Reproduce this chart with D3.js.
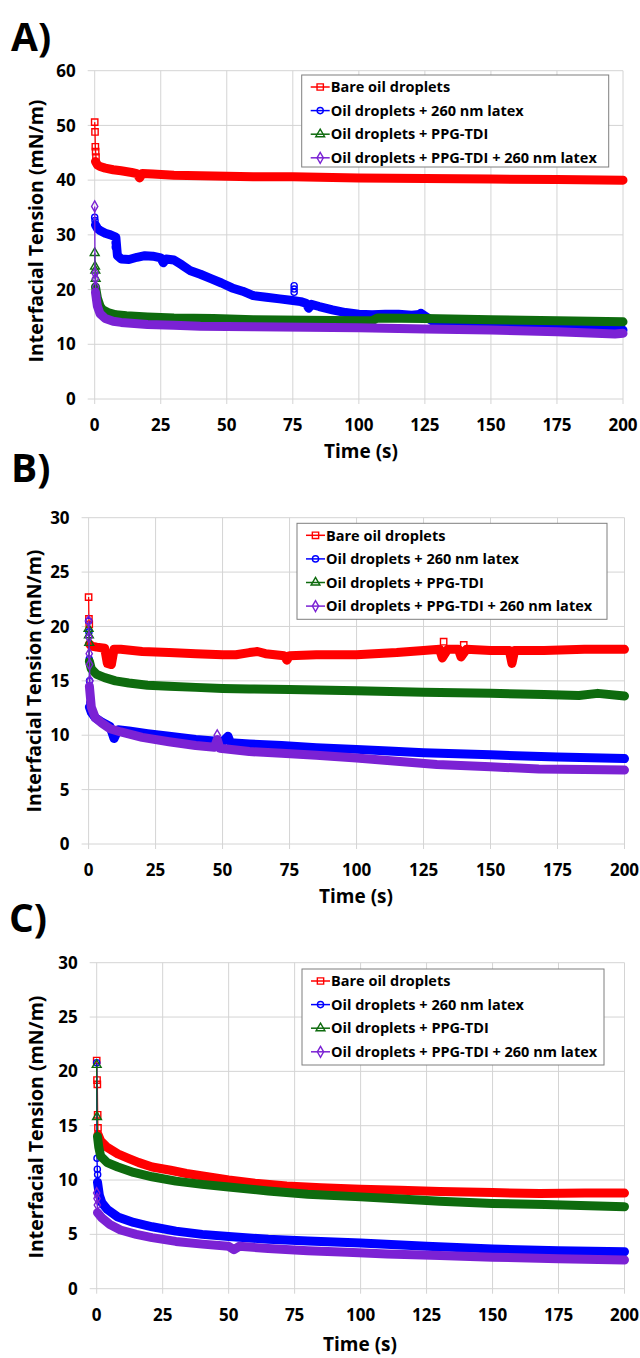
<!DOCTYPE html>
<html>
<head>
<meta charset="utf-8">
<script src="https://cdn.jsdelivr.net/npm/d3@7"></script>
<style>
body { margin: 0; background: #fff; }
text { font-family: "Open Sans", sans-serif; font-weight: 700; fill: #000; }
</style>
</head>
<body>
<script>
var seriesNames = ['Bare oil droplets', 'Oil droplets + 260 nm latex', 'Oil droplets + PPG-TDI', 'Oil droplets + PPG-TDI + 260 nm latex'];
var xTicks = [0, 25, 50, 75, 100, 125, 150, 175, 200];
var yTicksA = [0, 10, 20, 30, 40, 50, 60];
var yTicksBC = [0, 5, 10, 15, 20, 25, 30];

// ---- panel A ----
var aBareSpike = [50.6, 48.8, 46.1, 45.2, 44.2];
var aBare = [[0.3,43.4],[1,42.8],[2,42.5],[4,42.2],[7,41.9],[10,41.7],[14,41.4],[16,41.2],[17,40.4],[18,41.2],[22,41.1],[30,40.9],[40,40.8],[50,40.7],[60,40.6],[75,40.6],[90,40.5],[100,40.4],[125,40.3],[150,40.2],[175,40.1],[200,40.0]];
var aBareMarks = [];
var aLatexSpike = [33.2, 32.6];
var aLatex = [[0.3,31.8],[1,31.2],[2,30.8],[4,30.3],[6,30],[8,29.6],[8.6,26.2],[10,25.6],[13,25.5],[16,25.9],[19,26.2],[22,26.1],[25,25.8],[26,24.9],[27,25.6],[30,25.4],[33,24.5],[36,23.5],[40,22.8],[44,22],[48,21.2],[52,20.3],[56,19.7],[58,19.3],[60,18.9],[65,18.6],[70,18.3],[75,18],[78,17.8],[80,17.5],[81,16.6],[82,17.3],[85,16.9],[90,16.3],[95,15.8],[100,15.5],[105,15.4],[110,15.5],[115,15.5],[120,15.3],[124,15.5],[128,14.2],[140,13.8],[150,13.5],[165,13.1],[180,12.9],[200,12.6]];
var aLatexMarks = [[7.8,28.5],[7.8,27.8],[75.5,20.7],[75.5,20.1],[75.5,19.5],[123.5,15.8]];
var aPpgSpike = [26.7, 24.2, 23.5, 22];
var aPpg = [[0.3,20.5],[1,18.5],[2,17],[3,16.3],[5,15.8],[8,15.4],[12,15.2],[20,15],[30,14.8],[45,14.7],[60,14.5],[80,14.4],[100,14.3],[105,14.3],[107,14.8],[125,14.7],[150,14.5],[175,14.3],[200,14.1]];
var aPpgMarks = [];
var aBothSpike = [35.2, 23, 22, 20.5];
var aBoth = [[0.3,19.5],[1,17],[2,15.6],[4,14.7],[7,14.2],[10,14],[15,13.8],[20,13.6],[30,13.5],[40,13.3],[60,13.2],[80,13.1],[100,13.0],[125,12.8],[150,12.6],[175,12.3],[197,11.9],[200,12.0]];
var aBothMarks = [];

// ---- panel B ----
var bBareSpike = [22.7, 20.7, 20.2];
var bBare = [[0.3,18.4],[1,18.2],[3,18.1],[6,18],[7,16.6],[8.5,16.5],[9.5,17.9],[12,17.9],[20,17.7],[30,17.6],[40,17.5],[50,17.4],[55,17.4],[60,17.6],[63,17.7],[66,17.5],[73,17.3],[74,16.9],[75,17.3],[85,17.4],[100,17.4],[115,17.6],[125,17.8],[131,17.9],[132,17.1],[134,17.9],[138,17.9],[139,17.2],[141,17.9],[150,17.8],[157,17.8],[158,16.6],[159,17.8],[170,17.8],[185,17.9],[200,17.9]];
var bBareMarks = [[132.5,18.6],[140,18.3]];
var bLatexSpike = [20.5, 19.5, 17, 15, 13];
var bLatex = [[0.3,12.6],[1,12.1],[2.5,11.6],[5,11.2],[8,10.8],[9.5,9.7],[11,10.5],[15,10.4],[22,10.15],[30,9.9],[40,9.6],[50,9.4],[52,9.9],[53,9.3],[60,9.2],[72,9.05],[85,8.85],[100,8.7],[112,8.55],[125,8.4],[150,8.2],[175,8.0],[200,7.85]];
var bLatexMarks = [];
var bPpgSpike = [19.8, 19.2, 18.5];
var bPpg = [[0.3,16.8],[1,16.1],[3,15.6],[6,15.3],[10,15],[15,14.8],[22,14.6],[30,14.5],[40,14.4],[50,14.3],[60,14.25],[75,14.2],[100,14.1],[125,13.95],[150,13.85],[170,13.75],[183,13.65],[190,13.85],[200,13.6]];
var bPpgMarks = [];
var bBothSpike = [20.5, 19, 17.5, 16.5, 15];
var bBoth = [[0.3,14.5],[1,12.6],[2.5,11.6],[5,11.1],[8,10.6],[12,10.3],[20,9.8],[30,9.4],[40,9.05],[47,8.9],[48,9.6],[49,8.8],[60,8.5],[72,8.35],[85,8.15],[100,7.9],[115,7.6],[130,7.3],[150,7.1],[168,6.9],[185,6.85],[200,6.8]];
var bBothMarks = [[48,10]];

// ---- panel C ----
var cBareSpike = [21.0, 19.2, 18.8, 16.0, 14.8];
var cBare = [[0.5,14.2],[1.5,13.6],[4,13],[8,12.4],[12,12],[16,11.6],[21,11.2],[28,10.9],[34,10.6],[42,10.3],[50,10],[60,9.7],[72,9.45],[85,9.3],[100,9.15],[115,9.05],[130,8.95],[150,8.85],[168,8.75],[185,8.8],[200,8.8]];
var cBareMarks = [];
var cLatexSpike = [20.8, 12, 11, 10.5];
var cLatex = [[0.3,9.8],[1,8.6],[2,7.9],[4,7.3],[8,6.6],[14,6.1],[21,5.7],[30,5.3],[40,5.0],[50,4.8],[65,4.55],[80,4.4],[100,4.2],[125,3.9],[150,3.65],[175,3.5],[200,3.4]];
var cLatexMarks = [];
var cPpgSpike = [20.6, 15.8];
var cPpg = [[0.3,14],[0.8,13],[1.5,12.2],[4,11.6],[8,11.2],[14,10.7],[21,10.3],[30,9.9],[40,9.6],[50,9.35],[65,9],[80,8.7],[100,8.45],[115,8.25],[130,8.05],[150,7.85],[170,7.75],[200,7.55]];
var cPpgMarks = [];
var cBothSpike = [8.8, 8.3, 7.7];
var cBoth = [[0.3,7.0],[2,6.5],[5,5.9],[9,5.4],[15,5.0],[21,4.7],[30,4.35],[40,4.1],[50,3.9],[52,3.6],[54,3.9],[65,3.7],[80,3.5],[95,3.35],[110,3.2],[130,3.05],[150,2.9],[175,2.75],[200,2.65]];
var cBothMarks = [];

var colors = ['#ff0000', '#0000ff', '#0e6b0e', '#7b22d4'];
var shapes = [d3.symbolSquare, d3.symbolCircle, d3.symbolTriangle, d3.symbolDiamond];
var sizes = [40, 30, 34, 34];

var panels = [
  {label: 'A)', lx: 11, ly: 51, left: 94.7, right: 623, top: 70.7, bottom: 399, ymax: 60, yticks: yTicksA,
   leg: [301.7, 75, 307, 92], ytx: 36, yty: 231, ttx: 361, tty: 458,
   series: [[aBareSpike, aBare, aBareMarks], [aLatexSpike, aLatex, aLatexMarks], [aPpgSpike, aPpg, aPpgMarks], [aBothSpike, aBoth, aBothMarks]]},
  {label: 'B)', lx: 11, ly: 482, left: 88.6, right: 624.5, top: 517.7, bottom: 844, ymax: 30, yticks: yTicksBC,
   leg: [297, 523.3, 310, 96], ytx: 34, yty: 681, ttx: 356, tty: 903,
   series: [[bBareSpike, bBare, bBareMarks], [bLatexSpike, bLatex, bLatexMarks], [bPpgSpike, bPpg, bPpgMarks], [bBothSpike, bBoth, bBothMarks]]},
  {label: 'C)', lx: 9, ly: 932, left: 96.7, right: 624.5, top: 962.7, bottom: 1288.7, ymax: 30, yticks: yTicksBC,
   leg: [302, 969, 302, 96], ytx: 36, yty: 1127, ttx: 360, tty: 1351,
   series: [[cBareSpike, cBare, cBareMarks], [cLatexSpike, cLatex, cLatexMarks], [cPpgSpike, cPpg, cPpgMarks], [cBothSpike, cBoth, cBothMarks]]}
];

var svg = d3.select("body").append("svg")
  .attr("width", 640)
  .attr("height", 1358);

svg.append("rect").attr("width", 640).attr("height", 1358).attr("fill", "#fff");

panels.forEach(function (p) {
  var x = d3.scaleLinear().domain([0, 200]).range([p.left, p.right]);
  var y = d3.scaleLinear().domain([0, p.ymax]).range([p.bottom, p.top]);
  var g = svg.append("g");

  // gridlines (extend past the axis like tick marks)
  g.selectAll(".hg").data(p.yticks).enter().append("line")
    .attr("x1", p.left - 7).attr("x2", p.right)
    .attr("y1", function (d) { return y(d); }).attr("y2", function (d) { return y(d); })
    .attr("stroke", "#d4d4d4").attr("stroke-width", 1);
  g.selectAll(".vg").data(xTicks).enter().append("line")
    .attr("y1", p.top).attr("y2", p.bottom + 5)
    .attr("x1", function (d) { return x(d); }).attr("x2", function (d) { return x(d); })
    .attr("stroke", "#d4d4d4").attr("stroke-width", 1);

  // tick labels
  g.selectAll(".yl").data(p.yticks).enter().append("text")
    .attr("x", p.left - 19).attr("y", function (d) { return y(d); })
    .attr("dy", "0.36em").attr("text-anchor", "end")
    .style("font-size", "17px").text(function (d) { return d; });
  g.selectAll(".xl").data(xTicks).enter().append("text")
    .attr("x", function (d) { return x(d); }).attr("y", p.bottom + 32)
    .attr("text-anchor", "middle")
    .style("font-size", "17px").text(function (d) { return d; });

  // axis titles and panel letter
  g.append("text").attr("transform", "translate(" + p.ytx + "," + p.yty + ") rotate(-90)")
    .attr("text-anchor", "middle").attr("dy", "0.36em")
    .style("font-size", "19.5px").text("Interfacial Tension (mN/m)");
  g.append("text").attr("x", p.ttx).attr("y", p.tty).attr("text-anchor", "middle")
    .style("font-size", "19px").text("Time (s)");
  g.append("text").attr("x", p.lx).attr("y", p.ly)
    .style("font-size", "39px").text(p.label);

  var line = d3.line().x(function (d) { return x(d[0]); }).y(function (d) { return y(d[1]); });

  p.series.forEach(function (s, i) {
    var spike = s[0], band = s[1], marks = s[2];
    var spikePts = spike.map(function (v, k) { return [k * 0.12, v]; });
    var sym = d3.symbol().type(shapes[i]).size(sizes[i]);

    // thin line through the first few readings
    g.append("path").datum(spikePts.concat([band[0]]))
      .attr("d", line).attr("fill", "none")
      .attr("stroke", colors[i]).attr("stroke-width", 1.3);

    // dense readings rendered as a thick band
    g.append("path").datum(band)
      .attr("d", line).attr("fill", "none")
      .attr("stroke", colors[i]).attr("stroke-width", 9)
      .attr("stroke-linejoin", "round").attr("stroke-linecap", "round");

    g.selectAll(null).data(spikePts.concat(marks)).enter().append("path")
      .attr("d", sym)
      .attr("transform", function (d) { return "translate(" + x(d[0]) + "," + y(d[1]) + ")"; })
      .attr("fill", "none").attr("stroke", colors[i]).attr("stroke-width", 1.4);
  });

  // legend
  var lg = g.append("g").attr("transform", "translate(" + p.leg[0] + "," + p.leg[1] + ")");
  lg.append("rect").attr("width", p.leg[2]).attr("height", p.leg[3])
    .attr("fill", "#fff").attr("stroke", "#7f7f7f").attr("stroke-width", 1);
  seriesNames.forEach(function (name, i) {
    var yy = 12 + i * 23.6;
    lg.append("line").attr("x1", 9).attr("x2", 28).attr("y1", yy).attr("y2", yy)
      .attr("stroke", colors[i]).attr("stroke-width", 1.5);
    lg.append("path").attr("d", d3.symbol().type(shapes[i]).size(sizes[i])())
      .attr("transform", "translate(18.5," + yy + ")")
      .attr("fill", "none").attr("stroke", colors[i]).attr("stroke-width", 1.4);
    lg.append("text").attr("x", 29).attr("y", yy).attr("dy", "0.36em")
      .style("font-size", "14.5px").text(name);
  });
});
</script>
</body>
</html>
